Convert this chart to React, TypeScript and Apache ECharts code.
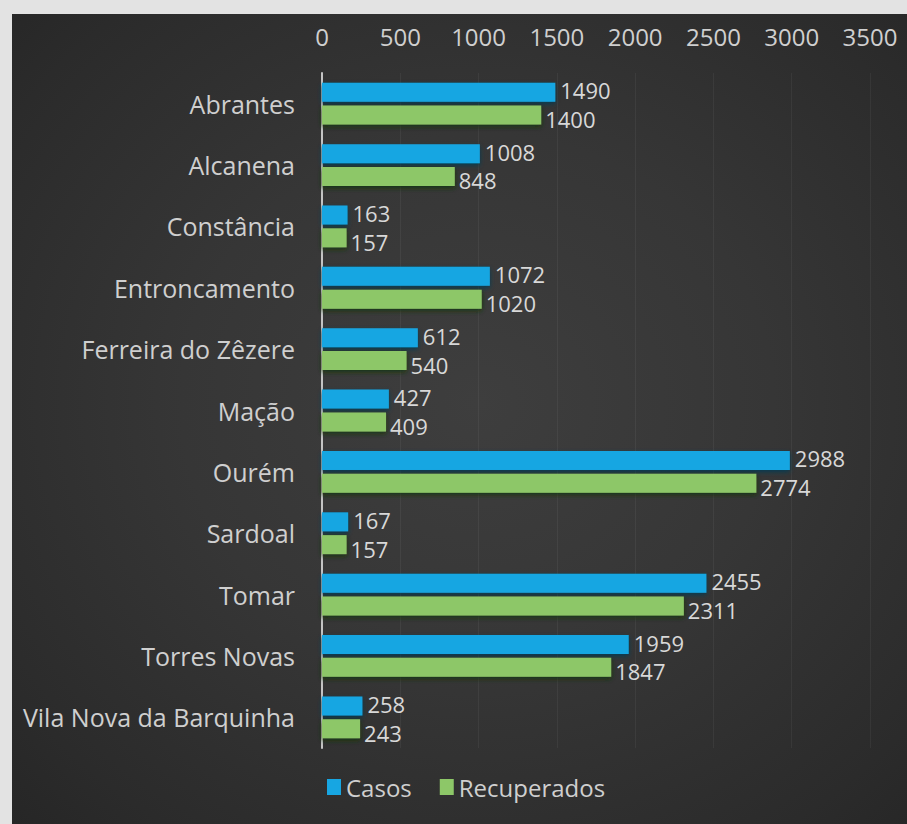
import React, { useEffect, useRef } from "react";
import * as echarts from "echarts";

const categories = [
  "Abrantes",
  "Alcanena",
  "Constância",
  "Entroncamento",
  "Ferreira do Zêzere",
  "Mação",
  "Ourém",
  "Sardoal",
  "Tomar",
  "Torres Novas",
  "Vila Nova da Barquinha",
];
const casos = [1490, 1008, 163, 1072, 612, 427, 2988, 167, 2455, 1959, 258];
const recuperados = [1400, 848, 157, 1020, 540, 409, 2774, 157, 2311, 1847, 243];
const seriesNames = ["Casos", "Recuperados"];
const axisMax = 3500;
const axisInterval = 500;

const FONT = "'Open Sans', 'Noto Sans', sans-serif";
const FS = 24;
const FS_VALUE = 22;

export default function App() {
  const ref = useRef<HTMLDivElement>(null);
  useEffect(() => {
    if (!ref.current) return;
    const chart = echarts.init(ref.current, undefined, { renderer: "svg" });
    chart.setOption({
      animation: false,
      backgroundColor: "transparent",
      textStyle: { fontFamily: FONT },
      grid: { left: 322, right: 37, top: 73, bottom: 76, containLabel: false },
      legend: {
        data: seriesNames,
        left: 322,
        top: 770,
        icon: "rect",
        itemWidth: 14,
        itemHeight: 16,
        itemGap: 28,
        textStyle: { color: "#cfcfcf", fontSize: FS, fontFamily: FONT },
      },
      xAxis: {
        type: "value",
        position: "top",
        min: 0,
        max: axisMax,
        interval: axisInterval,
        axisLine: { show: false },
        axisTick: { show: false },
        axisLabel: {
          color: "#cfcfcf",
          fontSize: FS,
          margin: 25,
          fontFamily: FONT,
          formatter: (v: number) => String(v),
        },
        splitLine: { show: true, lineStyle: { color: "rgba(255,255,255,0.05)", width: 1 } },
      },
      yAxis: {
        type: "category",
        data: categories,
        inverse: true,
        axisLine: { show: true, lineStyle: { color: "#c4c4c4", width: 2 } },
        axisTick: { show: false },
        axisLabel: { color: "#cfcfcf", fontSize: 25, margin: 27, fontFamily: FONT },
        splitLine: { show: false },
      },
      series: [
        {
          name: seriesNames[0],
          type: "bar",
          data: casos,
          barWidth: 19,
          barGap: "20%",
          itemStyle: {
            color: "#17a6e2",
            shadowColor: "rgba(0,60,85,0.95)",
            shadowBlur: 5,
            shadowOffsetY: 2,
          },
          label: {
            show: true,
            position: "right",
            distance: 5,
            color: "#d8d8d8",
            fontSize: FS_VALUE,
            fontFamily: FONT,
            offset: [0, -2],
          },
        },
        {
          name: seriesNames[1],
          type: "bar",
          data: recuperados,
          barWidth: 19,
          barGap: "20%",
          itemStyle: {
            color: "#8dc768",
            shadowColor: "rgba(25,55,15,0.95)",
            shadowBlur: 5,
            shadowOffsetY: 2,
          },
          label: {
            show: true,
            position: "right",
            distance: 4,
            color: "#d8d8d8",
            fontSize: FS_VALUE,
            fontFamily: FONT,
            offset: [0, 4],
          },
        },
      ],
    });
    return () => chart.dispose();
  }, []);

  return (
    <div
      style={{
        position: "fixed",
        left: 0,
        top: 0,
        width: 907,
        height: 824,
        background: "#e3e3e3",
        overflow: "hidden",
      }}
    >
      <div
        style={{
          position: "absolute",
          left: 12,
          top: 14,
          width: 895,
          height: 810,
          background:
            "radial-gradient(ellipse at 52% 48%, #3e3e3e 0%, #363636 45%, #2b2b2b 85%, #262626 100%)",
        }}
      />
      <div ref={ref} style={{ position: "absolute", left: 0, top: 0, width: 907, height: 824 }} />
    </div>
  );
}
